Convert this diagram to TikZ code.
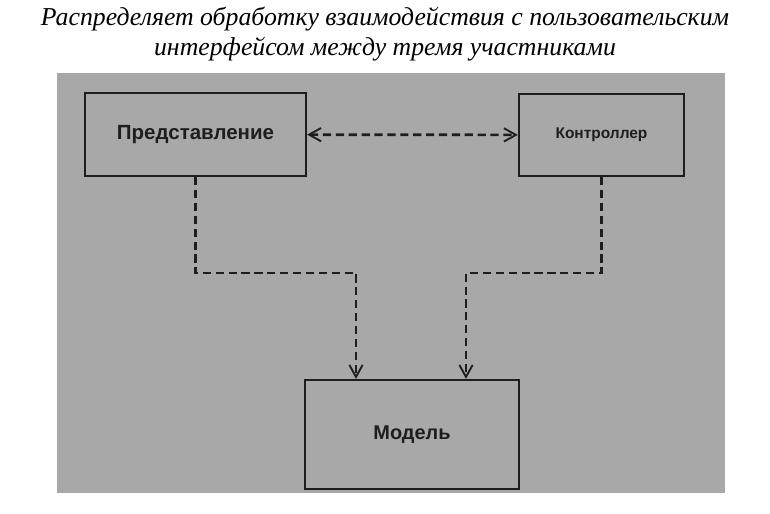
\documentclass[tikz,border=0pt]{standalone}
\usepackage{fontspec}
\setmainfont{Liberation Serif}
\setsansfont{Liberation Sans}
\usetikzlibrary{arrows.meta, positioning, calc}
\definecolor{scan}{RGB}{168,168,168}
\definecolor{ink}{RGB}{30,30,30}
\tikzstyle{block} = [rectangle, draw=ink, line width=2pt, fill=scan, text=ink, font=\sffamily\bfseries, inner sep=0pt]
\tikzstyle{dep} = [draw=ink, line width=2.3pt, dash pattern=on 7pt off 4pt, -{Straight Barb[length=3.6mm, width=4mm, line width=1.6pt]}]

\begin{document}
\begin{tikzpicture}
\useasboundingbox (0,0) rectangle (23.1,-15.42);
\fill[scan] (1.71,-2.19) rectangle (21.75,-14.79);
\node (title) at (11.55,-1.02) [align=center, font=\itshape\fontsize{22}{25}\selectfont] {Распределяет обработку взаимодействия с пользовательским\\интерфейсом между тремя участниками};
\node (view) at (5.865,-4.035) [block, minimum width=6.63cm, minimum height=2.49cm, font=\sffamily\bfseries\fontsize{17.5}{20}\selectfont] {Представление};
\node (ctrl) at (18.045,-4.05) [block, minimum width=4.95cm, minimum height=2.46cm, font=\sffamily\bfseries\fontsize{13.2}{16}\selectfont] {Контроллер};
\node (model) at (12.36,-13.035) [block, minimum width=6.42cm, minimum height=3.27cm, font=\sffamily\bfseries\fontsize{17}{20}\selectfont] {Модель};
\coordinate (jl) at (10.68,-8.19);
\coordinate (jr) at (13.98,-8.19);
\draw[dep, {Straight Barb[length=3.6mm, width=4mm, line width=1.6pt]}-{Straight Barb[length=3.6mm, width=4mm, line width=1.6pt]}] (view) -- (ctrl);
\draw[dep] (view.south) |- (jl) -- (jl |- model.north);
\draw[dep] (ctrl.south) |- (jr) -- (jr |- model.north);
\end{tikzpicture}
\end{document}
